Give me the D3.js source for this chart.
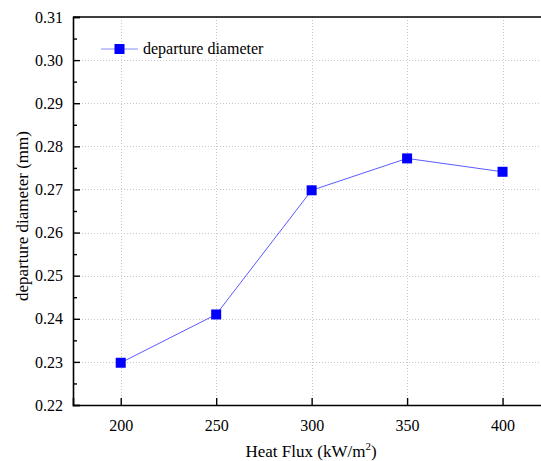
<!DOCTYPE html>
<html>
<head>
<meta charset="utf-8">
<script src="https://cdn.jsdelivr.net/npm/d3@7"></script>
<style>
  html, body { margin: 0; padding: 0; background: #fff; }
  svg { display: block; }
  svg text { font-family: "Liberation Serif", "Times New Roman", "DejaVu Serif", serif !important; }
</style>
</head>
<body>
<svg id="chart" width="541" height="461"></svg>
<script>
// Bubble departure diameter versus heat flux
const heatFlux = [200, 250, 300, 350, 400];
const departureDiameter = [0.2298, 0.2410, 0.2698, 0.2772, 0.2741];
const xTicks = [200, 250, 300, 350, 400];
const yTicks = [0.22, 0.23, 0.24, 0.25, 0.26, 0.27, 0.28, 0.29, 0.30, 0.31];
const yMinorTicks = [0.225, 0.235, 0.245, 0.255, 0.265, 0.275, 0.285, 0.295, 0.305];
const seriesName = "departure diameter";

const svg = d3.select("#chart");
const plotLeft = 73, plotTop = 17, plotBottom = 405, plotRight = 598;

const x = d3.scaleLinear().domain([175, 450]).range([plotLeft, plotRight]);
const y = d3.scaleLinear().domain([0.22, 0.31]).range([plotBottom, plotTop]);

// dotted grid
const grid = svg.append("g").attr("stroke", "#c8c8c8").attr("stroke-width", 1)
  .attr("stroke-dasharray", "1,2");
grid.selectAll("line.v").data(xTicks).join("line").attr("class", "v")
  .attr("x1", d => Math.round(x(d)) + 0.5).attr("x2", d => Math.round(x(d)) + 0.5)
  .attr("y1", plotTop).attr("y2", plotBottom);
grid.selectAll("line.h").data(yTicks.filter(d => d > 0.22 && d < 0.31)).join("line").attr("class", "h")
  .attr("y1", d => Math.round(y(d)) + 0.5).attr("y2", d => Math.round(y(d)) + 0.5)
  .attr("x1", plotLeft).attr("x2", plotRight);

// axes with inward ticks
const xAxis = svg.append("g").attr("transform", `translate(0,${plotBottom})`)
  .call(d3.axisBottom(x).tickValues(xTicks).tickSize(-7).tickPadding(15).tickFormat(d3.format("d")));
const yAxis = svg.append("g").attr("transform", `translate(${plotLeft},0)`)
  .call(d3.axisLeft(y).tickValues(yTicks).tickSize(-7).tickPadding(10).tickFormat(d3.format(".2f")));
svg.append("g").attr("transform", `translate(${plotLeft},0)`)
  .call(d3.axisLeft(y).tickValues(yMinorTicks).tickSize(-4).tickFormat(""))
  .call(g => g.select(".domain").remove());

[xAxis, yAxis].forEach(g => {
  g.select(".domain").attr("stroke", "#000").attr("stroke-width", 1.6);
  g.selectAll(".tick text").attr("font-size", 16).attr("fill", "#000");
});
svg.selectAll(".tick line").attr("stroke", "#000").attr("stroke-width", 1.4);

// top frame
svg.append("line").attr("x1", plotLeft).attr("x2", plotRight).attr("y1", plotTop).attr("y2", plotTop)
  .attr("stroke", "#000").attr("stroke-width", 1.6);

// series line and markers
const pts = heatFlux.map((h, i) => [h, departureDiameter[i]]);
svg.append("path").datum(pts)
  .attr("fill", "none").attr("stroke", "#5a5aff").attr("stroke-width", 1)
  .attr("d", d3.line().x(d => x(d[0])).y(d => y(d[1])));
const ms = 10;
svg.selectAll("rect.pt").data(pts).join("rect").attr("class", "pt")
  .attr("x", d => x(d[0]) - ms / 2).attr("y", d => y(d[1]) - ms / 2)
  .attr("width", ms).attr("height", ms).attr("fill", "#0000ff");

// legend
const lg = svg.append("g").attr("transform", "translate(101,49)");
lg.append("line").attr("x1", 0).attr("x2", 37).attr("y1", 0).attr("y2", 0)
  .attr("stroke", "#8c8cff").attr("stroke-width", 1.2);
lg.append("rect").attr("x", 18.5 - ms / 2).attr("y", -ms / 2).attr("width", ms).attr("height", ms)
  .attr("fill", "#0000ff");
lg.append("text").attr("x", 42).attr("y", 5).attr("font-size", 16).attr("fill", "#000")
  .text(seriesName);

// axis titles
const xt = svg.append("text").attr("x", 311).attr("y", 457).attr("text-anchor", "middle")
  .attr("font-size", 17).attr("fill", "#000");
xt.append("tspan").text("Heat Flux (kW/m");
xt.append("tspan").attr("font-size", 11).attr("dy", -7).text("2");
xt.append("tspan").attr("dy", 7).text(")");

svg.append("text").attr("transform", "translate(28,216) rotate(-90)")
  .attr("text-anchor", "middle").attr("font-size", 17).attr("fill", "#000")
  .text("departure diameter (mm)");
</script>
</body>
</html>
